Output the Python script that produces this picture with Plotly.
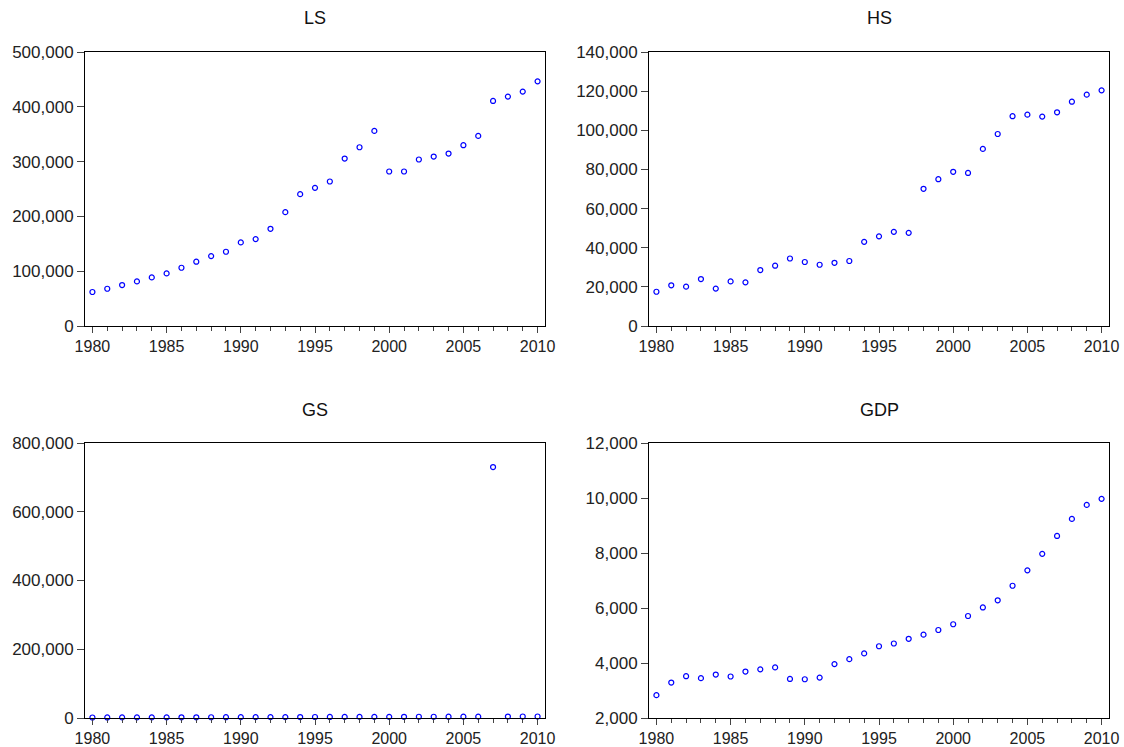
import plotly.graph_objects as go

years = list(range(1980, 2011))

ls_values = [62000, 68000, 74700, 81400, 88700, 96000, 106300, 117300, 127600, 135500,
             152500, 158600, 177400, 207800, 240600, 252100, 263700, 305600, 326200, 356000,
             281900, 281900, 303800, 309200, 314700, 329900, 346900, 410700, 418600, 427700,
             446500]

hs_values = [17500, 20800, 20100, 24000, 19100, 22800, 22300, 28600, 30800, 34500,
             32700, 31300, 32300, 33200, 43000, 45800, 48100, 47600, 70100, 75000,
             78800, 78200, 90500, 98100, 107200, 108000, 107000, 109200, 114600, 118200,
             120400]

gs_values = [1500, 1600, 1700, 1800, 1800, 1900, 2000, 2100, 2200, 2300,
             2400, 2500, 2600, 2700, 2800, 2900, 3000, 3100, 3200, 3300,
             3400, 3500, 3600, 3700, 3800, 3900, 4000, 730000, 4200, 4300,
             4400]

gdp_values = [2830, 3290, 3520, 3450, 3580, 3510, 3690, 3770, 3840, 3420,
              3410, 3470, 3960, 4140, 4350, 4610, 4710, 4880, 5030, 5200,
              5410, 5710, 6020, 6280, 6810, 7370, 7970, 8620, 9240, 9750,
              9970]

titles = ["LS", "HS", "GS", "GDP"]
series = [ls_values, hs_values, gs_values, gdp_values]
y_ranges = [[0, 500000], [0, 140000], [0, 800000], [2000, 12000]]
y_dticks = [100000, 20000, 200000, 2000]

W, H = 1124, 747
# pixel frames: (left, right, top, bottom)
frames = [(85, 545, 52, 326), (649, 1109, 52, 326), (85, 545, 443, 718), (649, 1109, 443, 718)]
title_y = [18, 18, 410, 410]

fig = go.Figure()
font_family = "Liberation Sans, Arial, sans-serif"

for i, (name, vals) in enumerate(zip(titles, series)):
    l, r, t, b = frames[i]
    xa = "xaxis" if i == 0 else f"xaxis{i+1}"
    ya = "yaxis" if i == 0 else f"yaxis{i+1}"
    xref = "x" if i == 0 else f"x{i+1}"
    yref = "y" if i == 0 else f"y{i+1}"
    fig.add_trace(go.Scatter(
        x=years, y=vals, mode="markers", xaxis=xref, yaxis=yref,
        marker=dict(symbol="circle-open", size=5, color="#0000FF", line=dict(width=1.2, color="#0000FF")),
        showlegend=False, cliponaxis=False,
    ))
    fig.layout[xa] = dict(
        domain=[l / W, r / W], anchor=yref, range=[1979.5, 2010.5],
        tickmode="linear", tick0=1980, dtick=5, ticks="outside", ticklen=6,
        tickcolor="#444", tickwidth=1, automargin=False,
        minor=dict(tickmode="linear", tick0=1980, dtick=1, ticks="outside", ticklen=4, tickcolor="#444"),
        showline=True, linecolor="black", linewidth=1, mirror=True,
        showgrid=False, zeroline=False,
        tickfont=dict(family=font_family, size=16, color="#222"),
    )
    fig.layout[ya] = dict(
        domain=[(H - b) / H, (H - t) / H], anchor=xref, range=y_ranges[i],
        tickmode="linear", tick0=0, dtick=y_dticks[i], tickformat=",d",
        ticks="outside", ticklen=7, tickcolor="#444", tickwidth=1, automargin=False,
        showline=True, linecolor="black", linewidth=1, mirror=True,
        showgrid=False, zeroline=False,
        tickfont=dict(family=font_family, size=17, color="#222"),
    )
    fig.add_annotation(
        text=name, x=(l + r) / 2 / W, y=(H - title_y[i]) / H, xref="paper", yref="paper",
        xanchor="center", yanchor="middle", showarrow=False,
        font=dict(family=font_family, size=18, color="#111"),
    )

fig.update_layout(
    width=W, height=H, margin=dict(l=0, r=0, t=0, b=0),
    paper_bgcolor="white", plot_bgcolor="white",
    font=dict(family=font_family),
)

fig.write_html("out.html")
